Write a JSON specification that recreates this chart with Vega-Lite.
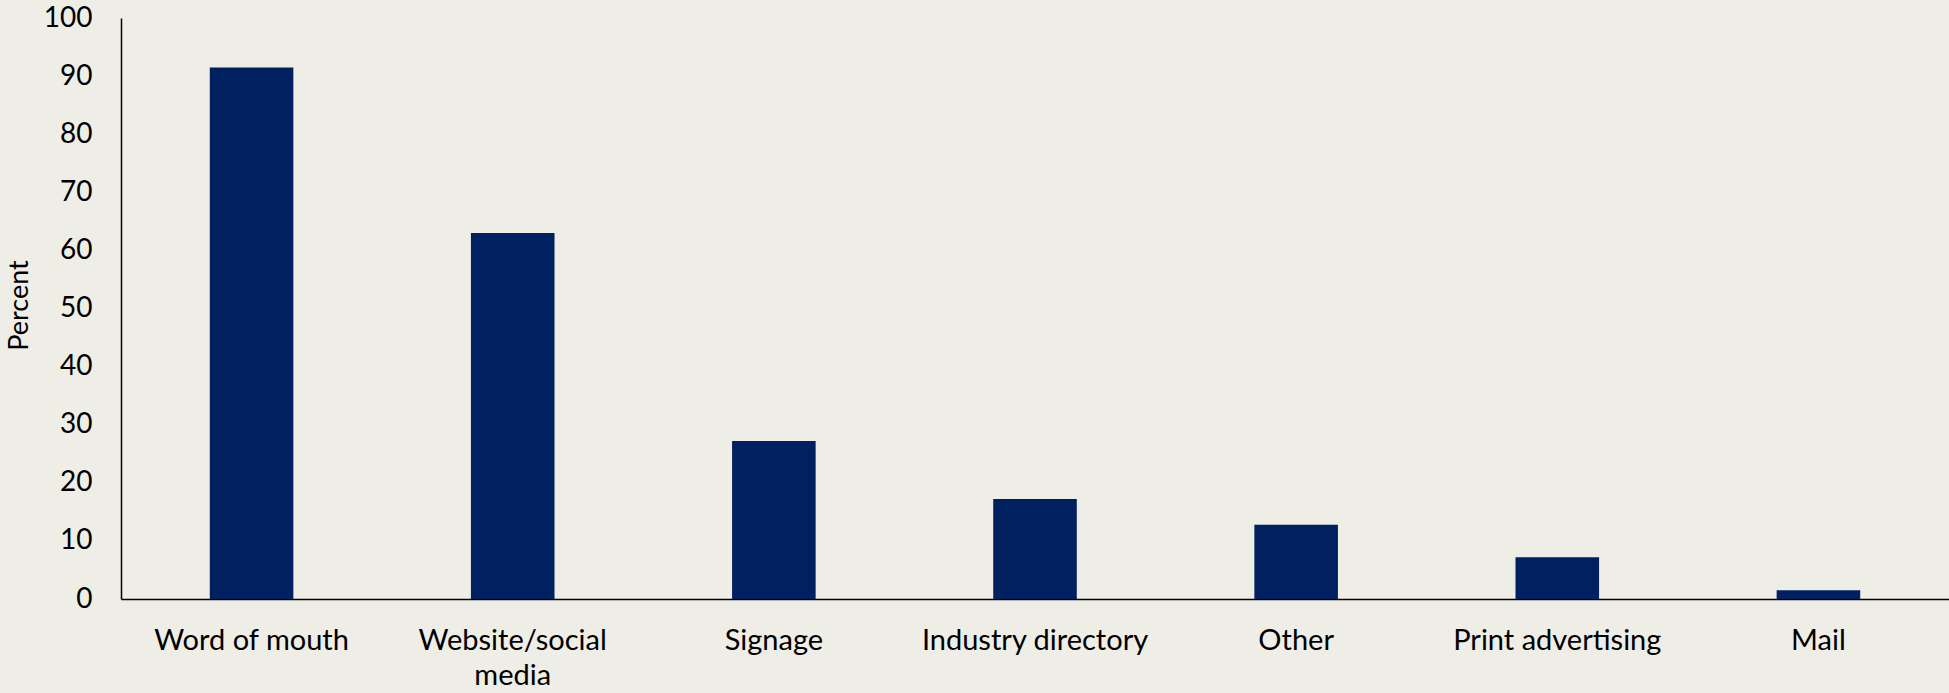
{
  "$schema": "https://vega.github.io/schema/vega-lite/v6.json",
  "width": 1828,
  "height": 581,
  "autosize": {"type": "none"},
  "padding": {"left": 121, "top": 18, "right": 0, "bottom": 94},
  "background": "#EEEDE6",
  "config": {
    "view": {"stroke": null},
    "font": "Lato",
    "axis": {"labelFont": "Lato", "titleFont": "Lato", "labelColor": "#000000", "titleColor": "#000000", "domainColor": "#000000", "grid": false, "ticks": false}
  },
  "data": {
    "values": [
      {"source": "Word of mouth", "percent": 91.5},
      {"source": "Website/social media", "percent": 63.0},
      {"source": "Signage", "percent": 27.2},
      {"source": "Industry directory", "percent": 17.2},
      {"source": "Other", "percent": 12.8},
      {"source": "Print advertising", "percent": 7.2},
      {"source": "Mail", "percent": 1.5}
    ]
  },
  "mark": {"type": "bar", "color": "#002060"},
  "encoding": {
    "x": {
      "field": "source",
      "type": "nominal",
      "sort": null,
      "scale": {"paddingInner": 0.68, "paddingOuter": 0.34},
      "axis": {
        "title": null,
        "labelAngle": 0,
        "labelFontSize": 29,
        "labelPadding": 27,
        "labelBaseline": "top",
        "labelLineHeight": 35,
        "labelLimit": 0,
        "domainWidth": 1.5,
        "labelExpr": "datum.label == 'Website/social media' ? ['Website/social', 'media'] : datum.label"
      }
    },
    "y": {
      "field": "percent",
      "type": "quantitative",
      "scale": {"domain": [0, 100], "nice": false},
      "axis": {
        "title": "Percent",
        "values": [0, 10, 20, 30, 40, 50, 60, 70, 80, 90, 100],
        "labelFontSize": 28,
        "labelPadding": 29,
        "domainWidth": 1.5,
        "titleFontSize": 27,
        "titleFontWeight": "normal",
        "titleAngle": -90,
        "titleX": -102,
        "titleY": 287,
        "titleAlign": "center",
        "titleBaseline": "middle"
      }
    }
  }
}
